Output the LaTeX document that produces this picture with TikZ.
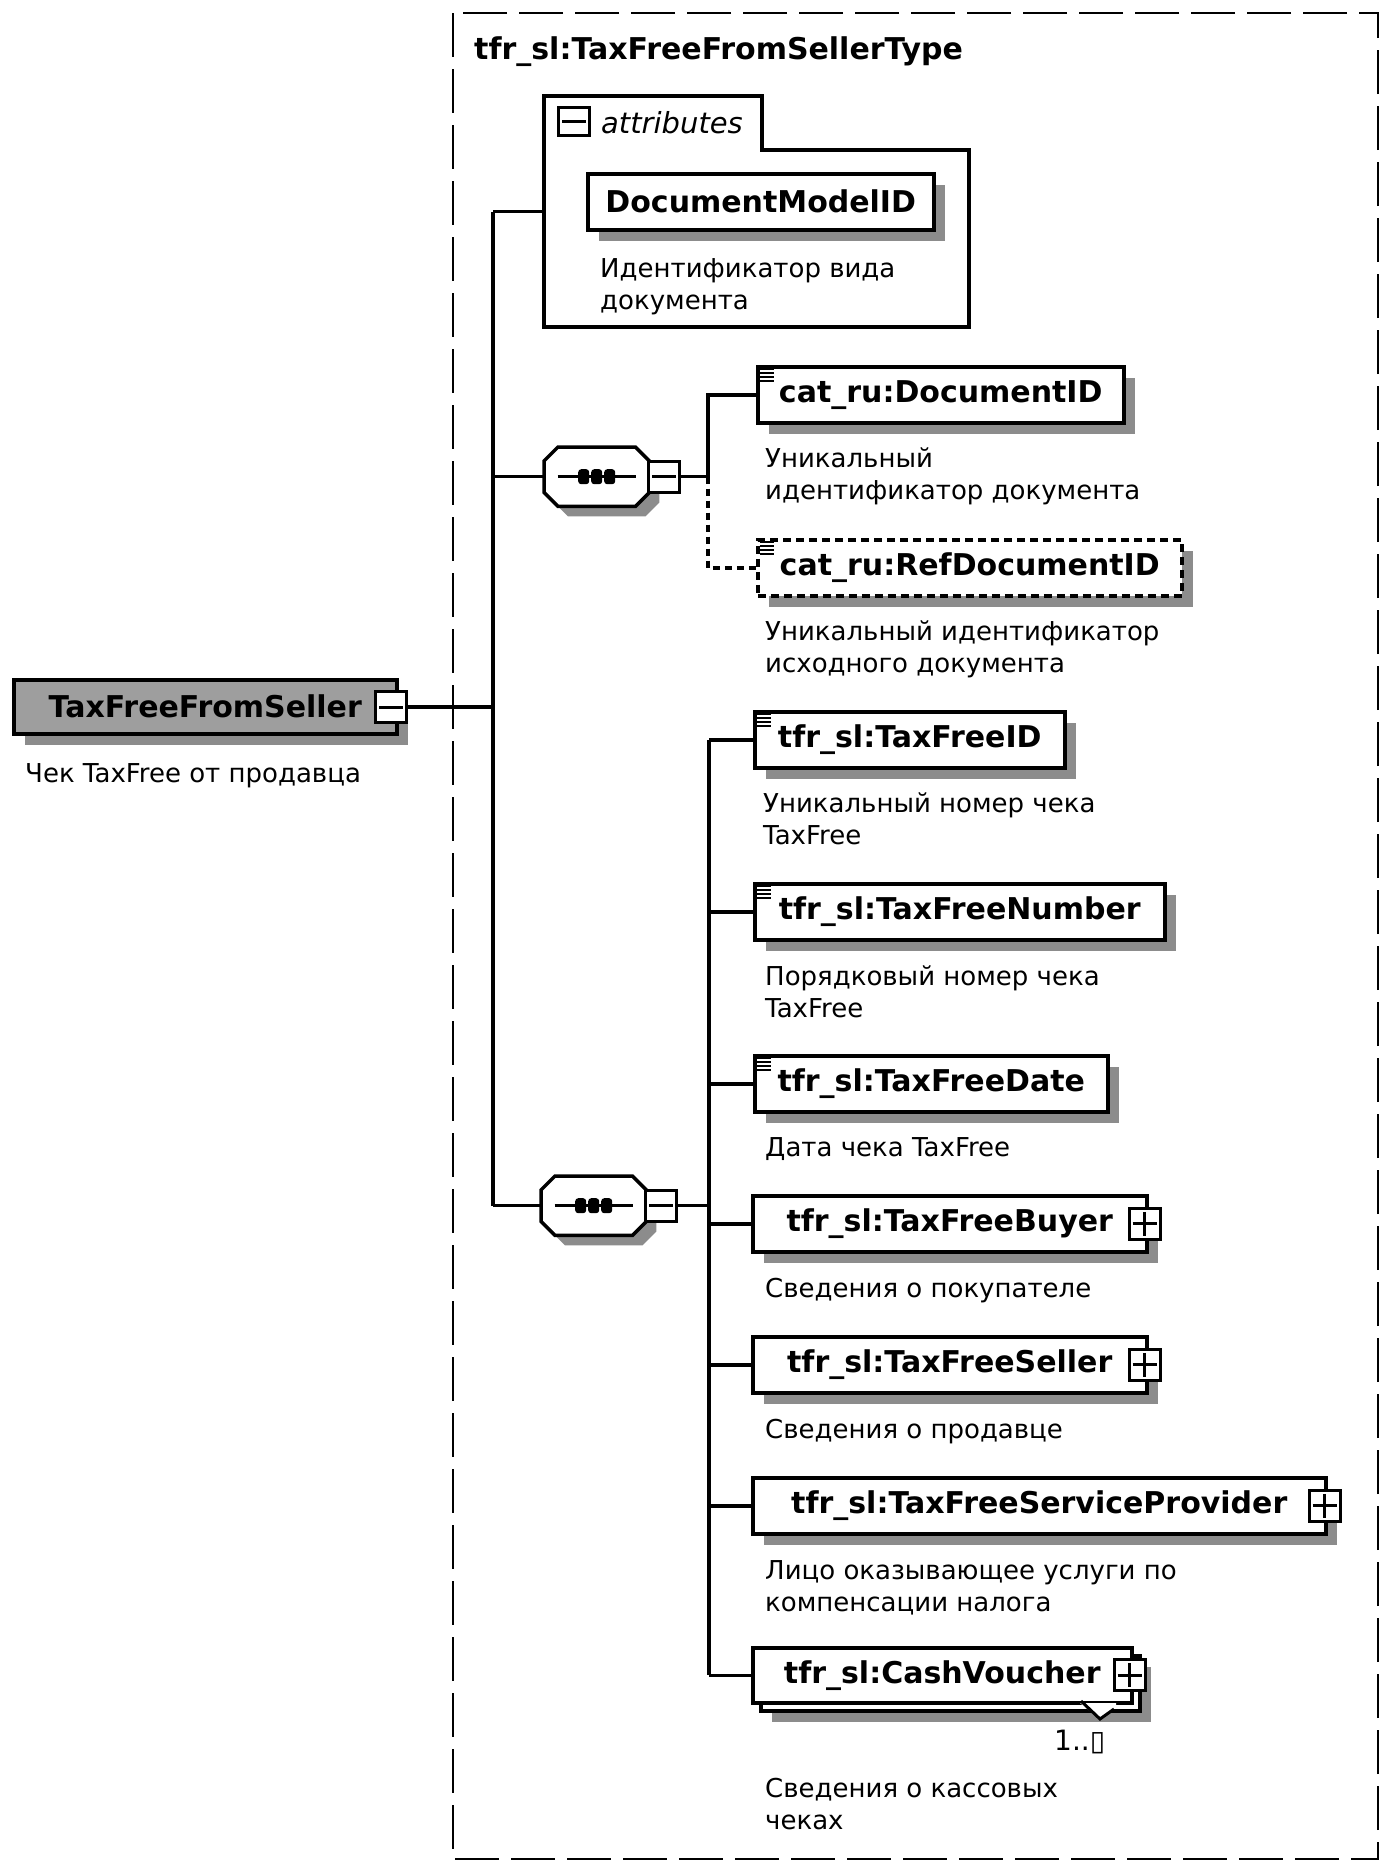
\documentclass[tikz,border=0pt]{standalone}
\usepackage{fontspec}
\setmainfont{DejaVu Sans}
\usetikzlibrary{calc,shadows}
\newcommand\namefont{\fontsize{30}{36}\selectfont\bfseries}
\newcommand\descfont{\fontsize{26}{32}\selectfont}
\newcommand\dstrut{\rule{0pt}{21pt}}
\newcommand\octpath[2]{($(#1.north west)+({14+#2},#2)$) -- ($(#1.north east)+({-14+#2},#2)$) -- ($(#1.north east)+(#2,{14+#2})$) -- ($(#1.south east)+(#2,{-14+#2})$) -- ($(#1.south east)+({-14+#2},#2)$) -- ($(#1.south west)+({14+#2},#2)$) -- ($(#1.south west)+(#2,{-14+#2})$) -- ($(#1.north west)+(#2,{14+#2})$) -- cycle}
\newcommand\seqdraw[1]{%
  \fill[black!45] \octpath{#1}{10};
  \draw[line width=3.5pt, fill=white] \octpath{#1}{0};
  \draw[line width=3pt] ($(#1.center)+(-39,0)$) -- ($(#1.center)+(39,0)$);
  \foreach \d in {-13,0,13}{\fill[rounded corners=3pt] ($(#1.center)+({\d-5.5},-7.5)$) rectangle ($(#1.center)+({\d+5.5},7.5)$);}}
\newcommand\minusicon[2]{\node[icon] (#1) at #2 {};
  \draw[sign] ($(#1.center)+(-12,0)$) -- ($(#1.center)+(12,0)$);}
\newcommand\plusicon[2]{\node[icon] (#1) at #2 {};
  \draw[sign] ($(#1.center)+(-12,0)$) -- ($(#1.center)+(12,0)$);
  \draw[sign] ($(#1.center)+(0,-12)$) -- ($(#1.center)+(0,12)$);}
\newcommand\simpleicon[1]{\foreach \k in {0,1,2,3}{\draw[line width=2pt] ($(#1.north west)+(4,{4+4*\k})$) -- ++(14,0);}}
\begin{document}
\begin{tikzpicture}[x=1pt,y=-1pt,
  conn/.style={line width=3.5pt},
  frame/.style={line width=2pt, dash pattern=on 44pt off 12pt},
  shadowed/.style={drop shadow={shadow xshift=11pt, shadow yshift=-11pt, fill=black!45, opacity=1}},
  elem/.style={draw, line width=3.5pt, fill=white, anchor=north west, minimum height=56pt, inner sep=0pt, font=\namefont},
  desc/.style={anchor=north west, inner sep=0pt, align=left, font=\descfont},
  icon/.style={draw, line width=3pt, fill=white, minimum size=31pt, inner sep=0pt},
  sign/.style={line width=3pt},
  seqnode/.style={anchor=north west, minimum width=105pt, minimum height=59pt, inner sep=0pt}]
\useasboundingbox (0,0) rectangle (1391,1869);
\fill[white] (0,0) rectangle (1391,1869);
% group frame
\draw[frame] (453,13) rectangle (1378,1859);
\node[anchor=base west, inner sep=0pt, font=\namefont] (title) at (474,59) {tfr\_sl:TaxFreeFromSellerType};
% attributes
\draw[line width=3.5pt, fill=white] (544,96) -- (762,96) -- (762,150) -- (969,150) -- (969,327) -- (544,327) -- cycle;
\node[anchor=north west, minimum width=425pt, minimum height=231pt, inner sep=0pt] (attrs) at (544,96) {};
\node[icon, minimum width=31pt, minimum height=28pt] (am) at (574,121) {};
\draw[sign] ($(am.center)+(-12,0)$) -- ($(am.center)+(12,0)$);
\node[anchor=base west, inner sep=0pt, font=\fontsize{29}{34}\selectfont\itshape] (attrlabel) at (601,133) {attributes};
\node[elem, shadowed, minimum width=346pt] (dmid) at (586,172) {DocumentModelID};
\node[desc] (dmiddesc) at (600,256) {\dstrut Идентификатор вида\\документа};
% root
\node[elem, shadowed, fill=black!38, minimum width=383pt, minimum height=54pt] (root) at (12,678) {TaxFreeFromSeller};
\minusicon{ri}{(391,707)}
\node[desc] (rootdesc) at (25,761) {\dstrut Чек TaxFree от продавца};
% sequences
\node[seqnode] (s1) at (544,447) {};
\seqdraw{s1}
\minusicon{m1}{($(s1.east)+(15,0)$)}
\node[seqnode] (s2) at (541,1176) {};
\seqdraw{s2}
\minusicon{m2}{($(s2.east)+(15,0)$)}
\coordinate (bus) at (493,0);
\coordinate (bus1) at (708,0);
\coordinate (bus2) at (709,0);
% first sequence children
\node[elem, shadowed, minimum width=366pt] (docid) at (756,365) {cat\_ru:DocumentID};
\simpleicon{docid}
\node[desc] (dociddesc) at (765,446) {\dstrut Уникальный\\идентификатор документа};
\node[elem, shadowed, dash pattern=on 8pt off 5pt, minimum width=424pt] (refdoc) at (756,538) {cat\_ru:RefDocumentID};
\simpleicon{refdoc}
\node[desc] (refdocdesc) at (765,619) {\dstrut Уникальный идентификатор\\исходного документа};
% second sequence children
\node[elem, shadowed, minimum width=310pt] (tfid) at (753,710) {tfr\_sl:TaxFreeID};
\simpleicon{tfid}
\node[desc] (tfiddesc) at (763,791) {\dstrut Уникальный номер чека\\TaxFree};
\node[elem, shadowed, minimum width=410pt] (tfnum) at (753,882) {tfr\_sl:TaxFreeNumber};
\simpleicon{tfnum}
\node[desc] (tfnumdesc) at (765,964) {\dstrut Порядковый номер чека\\TaxFree};
\node[elem, shadowed, minimum width=353pt] (tfdate) at (753,1054) {tfr\_sl:TaxFreeDate};
\simpleicon{tfdate}
\node[desc] (tfdatedesc) at (765,1135) {\dstrut Дата чека TaxFree};
\node[elem, shadowed, minimum width=394pt] (buyer) at (751,1194) {tfr\_sl:TaxFreeBuyer};
\plusicon{bi}{($(buyer.east)+(-4,0)$)}
\node[desc] (buyerdesc) at (765,1276) {\dstrut Сведения о покупателе};
\node[elem, shadowed, minimum width=394pt] (seller) at (751,1335) {tfr\_sl:TaxFreeSeller};
\plusicon{si}{($(seller.east)+(-4,0)$)}
\node[desc] (sellerdesc) at (765,1417) {\dstrut Сведения о продавце};
\node[elem, shadowed, minimum width=573pt] (provider) at (751,1476) {tfr\_sl:TaxFreeServiceProvider};
\plusicon{pi}{($(provider.east)+(-3,0)$)}
\node[desc] (providerdesc) at (765,1558) {\dstrut Лицо оказывающее услуги по\\компенсации налога};
\node[draw, line width=3.5pt, fill=white, anchor=north west, minimum width=379pt, minimum height=55pt, shadowed] (cashback) at (759,1654) {};
\node[elem, minimum width=379pt, minimum height=55pt] (cash) at (751,1646) {tfr\_sl:CashVoucher};
\fill[white] (1080,1703) -- (1100,1719) -- (1116,1707) -- (1116,1703) -- cycle;
\draw[line width=3pt] (1081,1701) -- (1100,1719) -- (1114,1709);
\plusicon{ci}{($(cash.east)+(-4,0)$)}
\node[anchor=base west, inner sep=0pt, font=\fontsize{28}{32}\selectfont] (mult) at (1054,1750) {1..▯};
\node[desc] (cashdesc) at (765,1776) {\dstrut Сведения о кассовых\\чеках};
% connectors
\draw[conn] (ri.east) -- (ri.east -| bus);
\draw[conn] (attrs.west -| bus) -- (s2.west -| bus);
\draw[conn] (attrs.west -| bus) -- (attrs.west);
\draw[conn] (s1.west -| bus) -- (s1.west);
\draw[conn] (s2.west -| bus) -- (s2.west);
\draw[conn] (m1.east) -- (m1.east -| bus1);
\draw[conn] (m1.east -| bus1) -- (docid.west -| bus1) -- (docid.west);
\draw[conn, dash pattern=on 7pt off 5pt] (m1.east -| bus1) -- (refdoc.west -| bus1) -- (refdoc.west);
\draw[conn] (m2.east) -- (m2.east -| bus2);
\draw[conn] (tfid.west -| bus2) -- (cash.west -| bus2);
\foreach \n in {tfid,tfnum,tfdate,buyer,seller,provider,cash}{\draw[conn] (\n.west -| bus2) -- (\n.west);}
\end{tikzpicture}
\end{document}
